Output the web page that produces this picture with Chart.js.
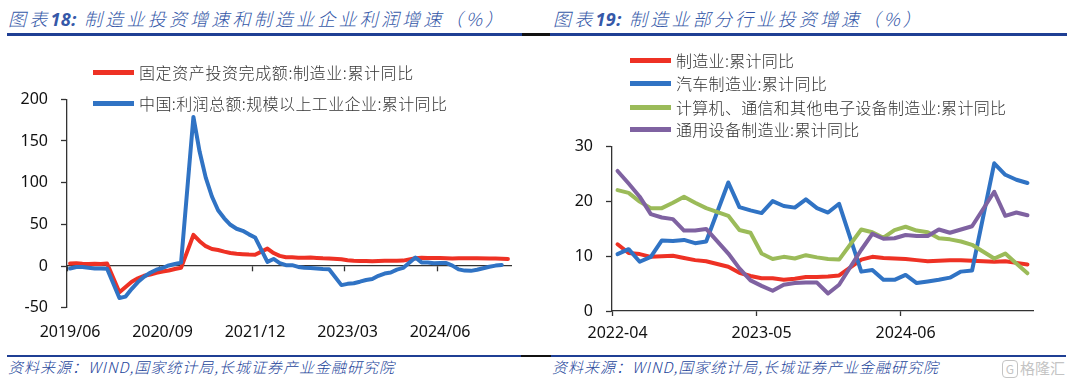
<!DOCTYPE html>
<html>
<head>
<meta charset="utf-8">
<script src="https://cdn.jsdelivr.net/npm/chart.js@4.4.1/dist/chart.umd.min.js"></script>
<style>
  body { margin: 0; width: 1080px; height: 389px; background: #fff; position: relative; overflow: hidden;
         font-family: 'Noto Sans CJK SC', 'Noto Sans', sans-serif; }
  .title { position: absolute; top: 6px; font-size: 18px; font-style: italic; color: #3558a8; font-weight: 300;
           letter-spacing: 3.2px; white-space: nowrap; line-height: 24px; }
  .title b { font-family: 'Noto Sans', sans-serif; font-weight: 700; letter-spacing: 0.5px; }
  .rule { position: absolute; }
  .src { position: absolute; top: 358px; font-size: 15px; font-style: italic; color: #23449a; font-weight: 300;
         letter-spacing: 1px; white-space: nowrap; line-height: 18px; }
  .leg { position: absolute; display: flex; align-items: center; font-size: 16px; color: #333; font-weight: 300;
         white-space: nowrap; line-height: 20px; height: 20px; }
  .leg i { display: inline-block; width: 41px; height: 5px; margin-right: 5px; }
  .wm { position: absolute; left: 1002px; top: 357px; font-size: 15px; color: #c4c4c4; white-space: nowrap; }
  .wm span { display: inline-block; border: 1.5px solid #c4c4c4; border-radius: 4px; width: 14px; height: 16px;
             line-height: 16px; text-align: center; font-size: 12px; margin-right: 2px; }
  canvas { position: absolute; top: 40px; }
</style>
</head>
<body>
<div class="title" style="left:8px">图表<b>18:</b> 制造业投资增速和制造业企业利润增速（%）</div>
<div class="title" style="left:553px">图表<b>19:</b> 制造业部分行业投资增速（%）</div>
<div class="rule" style="left:7px;width:515px;top:33px;height:3px;background:#1f3f94"></div>
<div class="rule" style="left:522px;width:28px;top:33px;height:3px;background:#111"></div>
<div class="rule" style="left:550px;width:517px;top:33px;height:3px;background:#1f3f94"></div>

<canvas id="leftChart" width="540" height="310" style="left:0"></canvas>
<canvas id="rightChart" width="540" height="310" style="left:540px"></canvas>

<div class="leg" style="left:93px;top:62px;letter-spacing:0.6px"><i style="background:#ee3124"></i>固定资产投资完成额:制造业:累计同比</div>
<div class="leg" style="left:93px;top:93px;letter-spacing:0.4px"><i style="background:#3073c4"></i>中国:利润总额:规模以上工业企业:累计同比</div>

<div class="leg" style="left:630px;top:50px;letter-spacing:0.3px"><i style="background:#ee3124"></i>制造业:累计同比</div>
<div class="leg" style="left:630px;top:73px;letter-spacing:0.3px"><i style="background:#3073c4"></i>汽车制造业:累计同比</div>
<div class="leg" style="left:630px;top:97px;letter-spacing:0.3px"><i style="background:#9bbb59"></i>计算机、通信和其他电子设备制造业:累计同比</div>
<div class="leg" style="left:630px;top:119px;letter-spacing:0.3px"><i style="background:#7f62a1"></i>通用设备制造业:累计同比</div>

<div class="rule" style="left:7px;width:514px;top:355px;height:2px;background:#1f3f94"></div>
<div class="rule" style="left:521px;width:30px;top:355px;height:2px;background:#111"></div>
<div class="rule" style="left:551px;width:515px;top:355px;height:2px;background:#1f3f94"></div>
<div class="src" style="left:8px">资料来源：WIND,国家统计局,长城证券产业金融研究院</div>
<div class="src" style="left:552px">资料来源：WIND,国家统计局,长城证券产业金融研究院</div>
<div class="wm"><span>G</span>格隆汇</div>

<script>
// left chart: monthly, January has no release
const leftMonths = [
  '2019-06','2019-07','2019-08','2019-09','2019-10','2019-11','2019-12',
  '2020-01','2020-02','2020-03','2020-04','2020-05','2020-06','2020-07','2020-08','2020-09','2020-10','2020-11','2020-12',
  '2021-01','2021-02','2021-03','2021-04','2021-05','2021-06','2021-07','2021-08','2021-09','2021-10','2021-11','2021-12',
  '2022-01','2022-02','2022-03','2022-04','2022-05','2022-06','2022-07','2022-08','2022-09','2022-10','2022-11','2022-12',
  '2023-01','2023-02','2023-03','2023-04','2023-05','2023-06','2023-07','2023-08','2023-09','2023-10','2023-11','2023-12',
  '2024-01','2024-02','2024-03','2024-04','2024-05','2024-06','2024-07','2024-08','2024-09','2024-10','2024-11','2024-12',
  '2025-01','2025-02','2025-03','2025-04','2025-05'
];
const fixedInvest = [
  3.0, 3.3, 2.6, 2.5, 2.6, 2.5, 3.1,
  null, -31.5, -25.2, -18.8, -14.8, -11.7, -10.2, -8.1, -6.5, -5.3, -3.5, -2.2,
  null, 37.3, 29.8, 23.8, 20.4, 19.2, 17.3, 15.7, 14.8, 14.2, 13.7, 13.5,
  null, 20.9, 15.6, 12.2, 10.6, 10.4, 9.9, 10.0, 10.1, 9.7, 9.3, 9.1,
  null, 8.1, 7.0, 6.4, 6.0, 6.0, 5.7, 5.9, 6.2, 6.2, 6.3, 6.5,
  null, 9.4, 9.9, 9.7, 9.6, 9.5, 9.3, 9.1, 9.2, 9.3, 9.3, 9.2,
  null, 9.0, 9.1, 8.8, 8.5
];
const profitTotal = [
  -3.0, -1.2, -1.2, -2.0, -3.0, -3.0, -3.3,
  null, -38.3, -36.7, -27.4, -19.3, -12.8, -8.1, -4.4, -2.4, 0.7, 2.4, 4.1,
  null, 178.9, 137.3, 106.0, 83.4, 66.9, 57.3, 49.5, 44.7, 42.2, 38.0, 34.3,
  null, 5.0, 8.5, 3.5, 1.0, 1.0, -1.1, -2.1, -2.3, -3.0, -3.6, -4.0,
  null, -22.9, -21.4, -20.6, -18.8, -16.8, -15.5, -11.7, -9.0, -7.8, -4.4, -2.3,
  null, 10.2, 4.3, 4.3, 3.4, 3.5, 3.6, 0.5, -4.0, -5.5, -5.8, -4.5,
  null, -0.8, 0.5, 1.2
];
const leftTickEvery = 15;

// right chart
const rightMonths = [
  '2022-04','2022-05','2022-06','2022-07','2022-08','2022-09','2022-10','2022-11','2022-12',
  '2023-01','2023-02','2023-03','2023-04','2023-05','2023-06','2023-07','2023-08','2023-09','2023-10','2023-11','2023-12',
  '2024-01','2024-02','2024-03','2024-04','2024-05','2024-06','2024-07','2024-08','2024-09','2024-10','2024-11','2024-12',
  '2025-01','2025-02','2025-03','2025-04','2025-05'
];
const mfgInvest = [
  12.2, 10.6, 10.4, 9.9, 10.0, 10.1, 9.7, 9.3, 9.1,
  null, 8.1, 7.0, 6.4, 6.0, 6.0, 5.7, 5.9, 6.2, 6.2, 6.3, 6.5,
  null, 9.4, 9.9, 9.7, 9.6, 9.5, 9.3, 9.1, 9.2, 9.3, 9.3, 9.2,
  null, 9.0, 9.1, 8.8, 8.5
];
const autoInvest = [
  10.4, 11.3, 9.0, 9.9, 12.9, 12.8, 13.0, 12.4, 12.7,
  null, 23.5, 19.0, 18.4, 17.9, 20.1, 19.2, 18.9, 20.4, 18.8, 18.0, 19.6,
  null, 7.2, 7.5, 5.7, 5.7, 6.6, 5.1, 5.4, 5.7, 6.1, 7.2, 7.4,
  null, 27.0, 24.9, 24.0, 23.4
];
const electronicInvest = [
  22.1, 21.6, 20.0, 18.8, 18.8, 19.8, 20.9, 19.8, 18.8,
  null, 17.4, 14.8, 14.3, 10.5, 9.5, 9.9, 9.6, 10.2, 9.8, 9.5, 9.4,
  null, 14.9, 14.4, 13.4, 14.8, 15.4, 14.7, 14.4, 13.3, 13.1, 12.7, 12.1,
  null, 9.6, 10.5, 8.7, 6.9
];
const generalEquipInvest = [
  25.6, 23.3, 20.9, 17.7, 17.1, 16.8, 14.7, 14.7, 15.0,
  null, 10.5, 7.8, 5.6, 4.6, 3.7, 4.8, 5.1, 5.2, 5.2, 3.2, 4.8,
  null, 11.2, 14.1, 13.2, 13.3, 13.9, 13.7, 13.7, 14.9, 14.3, 14.9, 15.5,
  null, 21.8, 17.4, 18.0, 17.5
];
const rightTickEvery = 13;

Chart.defaults.font.family = "'Noto Sans', 'Noto Sans CJK SC', sans-serif";
Chart.defaults.font.size = 16;
Chart.defaults.color = '#111';

const AXIS = '#333';
const NONE = 'rgba(0,0,0,0)';

function line(data, color, order) {
  return {
    data: data, borderColor: color, backgroundColor: color, borderWidth: 4,
    pointRadius: 0, tension: 0, spanGaps: true, order: order,
    borderJoinStyle: 'round', borderCapStyle: 'round'
  };
}

// left
new Chart(document.getElementById('leftChart'), {
  type: 'line',
  data: {
    labels: leftMonths,
    datasets: [
      line(fixedInvest, '#ee3124', 1),
      line(profitTotal, '#3073c4', 0)
    ]
  },
  options: {
    responsive: false,
    animation: false,
    layout: { padding: { top: 59.3, right: 29, left: 0, bottom: 0 } },
    plugins: { legend: { display: false }, tooltip: { enabled: false } },
    scales: {
      x: {
        type: 'category', position: 'bottom', offset: true,
        border: { display: false },
        grid: { display: false, drawTicks: false, offset: true },
        ticks: {
          autoSkip: false, maxRotation: 0, padding: 15,
          callback: (v, i) => i % leftTickEvery === 0 ? leftMonths[i].replace('-', '/') : ''
        },
        afterFit: s => { s.height = 42.3; }
      },
      x0: {
        type: 'category', position: { y: 0 }, offset: true,
        border: { color: AXIS, width: 1.3 },
        grid: {
          offset: true, drawOnChartArea: false, tickLength: 5, tickWidth: 1.3,
          color: c => c.index % leftTickEvery === 0 ? AXIS : NONE,
          tickColor: c => c.index % leftTickEvery === 0 ? AXIS : NONE
        },
        ticks: { display: false, autoSkip: false }
      },
      y: {
        min: -50, max: 200,
        border: { color: AXIS, width: 1.3 },
        grid: { drawOnChartArea: false, tickLength: 6, color: AXIS, tickWidth: 1.3 },
        ticks: { stepSize: 50, padding: 13 },
        afterFit: s => { s.width = 67; }
      }
    }
  }
});

// right
new Chart(document.getElementById('rightChart'), {
  type: 'line',
  data: {
    labels: rightMonths,
    datasets: [
      line(mfgInvest, '#ee3124', 3),
      line(autoInvest, '#3073c4', 2),
      line(electronicInvest, '#9bbb59', 1),
      line(generalEquipInvest, '#7f62a1', 0)
    ]
  },
  options: {
    responsive: false,
    animation: false,
    layout: { padding: { top: 106.9, right: 47, left: 0, bottom: 0 } },
    plugins: { legend: { display: false }, tooltip: { enabled: false } },
    scales: {
      x: {
        type: 'category', position: 'bottom', offset: true,
        border: { color: AXIS, width: 1.3 },
        grid: {
          offset: true, drawOnChartArea: false, tickLength: 5, tickWidth: 1.3,
          color: c => c.index % rightTickEvery === 0 ? AXIS : NONE,
          tickColor: c => c.index % rightTickEvery === 0 ? AXIS : NONE
        },
        ticks: {
          autoSkip: false, maxRotation: 0, padding: 7.7,
          callback: (v, i) => i % rightTickEvery === 0 ? rightMonths[i] : ''
        },
        afterFit: s => { s.height = 39; }
      },
      y: {
        min: 0, max: 30,
        border: { color: AXIS, width: 1.3 },
        grid: { drawOnChartArea: false, tickLength: 6, color: AXIS, tickWidth: 1.3 },
        ticks: { stepSize: 10, padding: 13 },
        afterFit: s => { s.width = 72; }
      }
    }
  }
});
</script>
</body>
</html>
